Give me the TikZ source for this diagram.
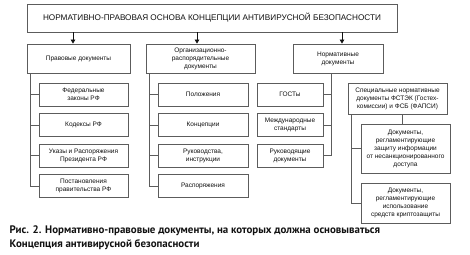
\documentclass[tikz,border=0pt]{standalone}
\usepackage{fontspec}
\setmainfont{Liberation Sans}
\newfontfamily\capfont{PT Sans}
\usetikzlibrary{arrows.meta,positioning,calc}
\definecolor{npInk}{HTML}{111111}
\definecolor{npLine}{HTML}{5C5C5C}
\tikzset{
  hdr/.style={draw=npLine, line width=0.8pt, fill=white, minimum width=370pt, minimum height=28pt, inner sep=0pt, text=npInk, font=\fontsize{8.2}{9}\selectfont},
  grp/.style={draw=npLine, line width=0.8pt, fill=white, minimum height=29pt, inner sep=1pt, align=center, text=npInk, font=\fontsize{6.5}{8}\selectfont},
  doc/.style={grp, minimum width=89pt, minimum height=23pt},
  lnk/.style={draw=npLine, line width=0.8pt},
  arr/.style={lnk, draw=npInk, -{Triangle[length=4pt,width=4.5pt]}},
}

\begin{document}
\begin{tikzpicture}[x=1pt,y=-1pt]
        \useasboundingbox (0,0) rectangle (470,254);
        \node[hdr] (root) at (212,18) {НОРМАТИВНО-ПРАВОВАЯ ОСНОВА КОНЦЕПЦИИ АНТИВИРУСНОЙ БЕЗОПАСНОСТИ};
        % second row
        \node[grp, minimum width=103pt] (prav) at (78.5,58.5) {Правовые документы};
        \node[grp, minimum width=109pt] (org) at (200.5,58.5) {Организационно-\\распорядительные\\документы};
        \node[grp, minimum width=90pt] (norm) at (338,58.5) {Нормативные\\документы};
        \foreach \n/\dx in {prav/-5.5, org/-3.5, norm/4} {
            \draw[arr] ([xshift=\dx pt]\n.north |- root.south) -- ([xshift=\dx pt]\n.north);
        }
        % column 1
        \foreach \t [count=\k] in {{Федеральные\\законы РФ}, {Кодексы РФ}, {Указы и Распоряжения\\Президента РФ}, {Постановления\\правительства РФ}} {
            \node[doc] (p\k) at (83.5,94.5+30.5*\k-30.5) {\t};
            \draw[lnk] ([xshift=4pt]prav.south west) |- (p\k.west);
        }
        % column 2
        \foreach \t [count=\k] in {Положения, Концепции, {Руководства,\\инструкции}, Распоряжения} {
            \node[doc, minimum width=90pt] (o\k) at (203,94.5+30.5*\k-30.5) {\t};
            \draw[lnk] ([xshift=4pt]org.south west) |- (o\k.west);
        }
        % column 3
        \foreach \t [count=\k] in {ГОСТы, {Международные\\стандарты}, {Руководящие\\документы}} {
            \node[doc, minimum width=66pt] (g\k) at (290,94.5+30.5*\k-30.5) {\t};
            \draw[lnk] ([xshift=-7pt]norm.south) |- (g\k.east);
        }
        % special documents
        \node[grp, minimum width=99pt, minimum height=31pt] (spec) at (397.5,98.5) {Специальные нормативные\\документы ФСТЭК (Гостех-\\комиссии) и ФСБ (ФАПСИ)};
        \node[doc, minimum height=49pt] (d1) at (405.5,148.5) {Документы,\\регламентирующие\\защиту информации\\от несанкционированного\\доступа};
        \node[doc, minimum height=40pt] (d2) at (405.5,203) {Документы,\\регламентирующие\\использование\\средств криптозащиты};
        \draw[lnk] ([xshift=-3.5pt]d1.north |- spec.south) -- ([xshift=-3.5pt]d1.north);
        \foreach \k in {1,2} {
            \draw[lnk] ([xshift=4pt]spec.south west) |- (d\k.west);
        }
        % caption
        \node[anchor=north west, align=left, inner sep=0pt, text=npInk, font=\capfont\bfseries\fontsize{10.9}{13.5}\selectfont] (cap) at (9.5,226) {Рис. 2. Нормативно-правовые документы, на которых должна основываться\\Концепция антивирусной безопасности};
    \end{tikzpicture}
\end{document}
